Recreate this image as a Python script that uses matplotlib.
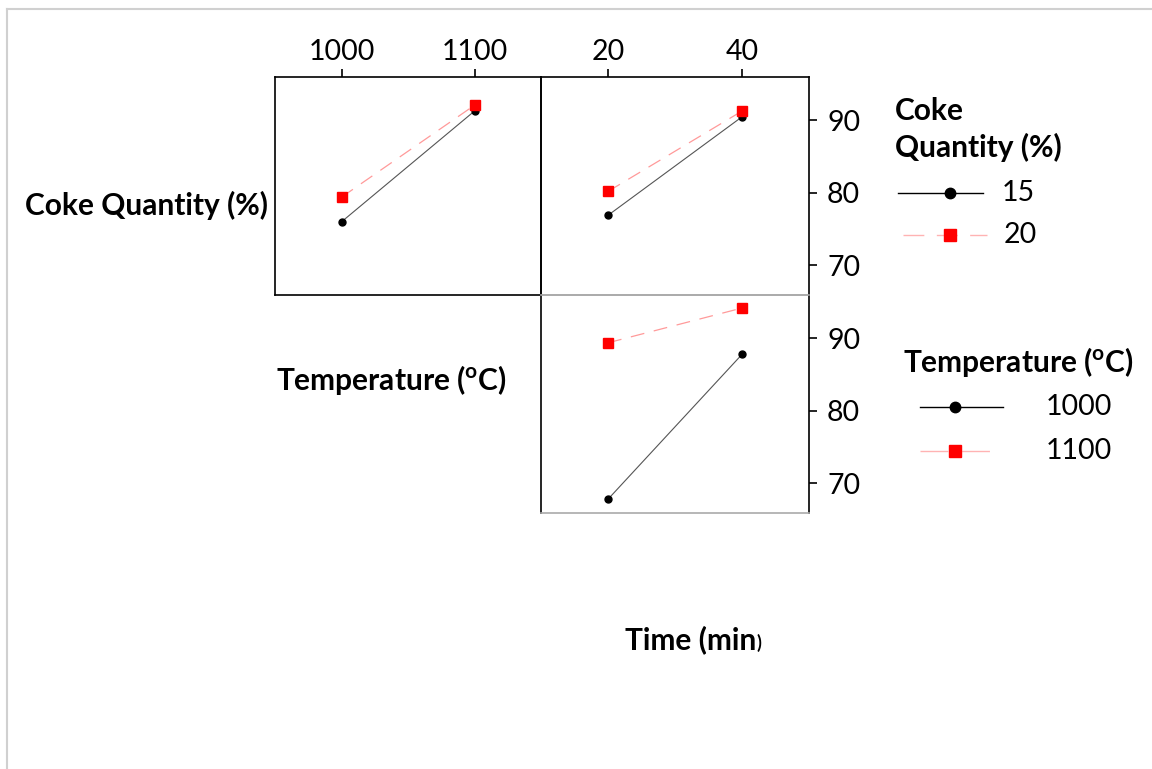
import matplotlib
matplotlib.use("Agg")
import matplotlib.pyplot as plt
from matplotlib.lines import Line2D

plt.rcParams["font.family"] = ["Lato", "DejaVu Sans"]
plt.rcParams["mathtext.fontset"] = "custom"
plt.rcParams["mathtext.bf"] = "Lato:bold"
plt.rcParams["mathtext.rm"] = "Lato"
plt.rcParams["lines.scale_dashes"] = False

# Factor levels
temp_levels = [1000, 1100]
time_levels = [20, 40]
coke_labels = ["15", "20"]
temp_labels = ["1000", "1100"]
y_ticks = [70, 80, 90]

# Mean response, Coke Quantity x Temperature
coke15_vs_temp = [76.0, 91.3]
coke20_vs_temp = [79.4, 92.1]
# Mean response, Coke Quantity x Time
coke15_vs_time = [76.9, 90.5]
coke20_vs_time = [80.2, 91.3]
# Mean response, Temperature x Time
temp1000_vs_time = [67.8, 87.8]
temp1100_vs_time = [89.4, 94.2]

W, H = 1152, 769
fig = plt.figure(figsize=(W / 100, H / 100), dpi=100)

TICK_FS = 20.5
LABEL_FS = 21.5


def fx(px):
    return px / W


def fy(py):
    return 1 - py / H


def panel(x0, y0, x1, y1):
    return fig.add_axes([fx(x0), fy(y1), fx(x1) - fx(x0), fy(y0) - fy(y1)])


BLACK_STYLE = dict(color="#555555", lw=0.8, marker="o", ms=5,
                   mfc="black", mec="black", zorder=3)
RED_STYLE = dict(color="#ff9a9a", lw=0.9, dashes=(10, 7), marker="s", ms=6.5,
                 mfc="red", mec="red", zorder=3)
YLIM = (65.9, 96.0)
GRAY = "#aaaaaa"

ax_ct = panel(275, 77, 541, 295)
ax_cm = panel(541, 77, 809, 295)
ax_tm = panel(541, 295, 809, 513)

ax_ct.plot(temp_levels, coke15_vs_temp, **BLACK_STYLE)
ax_ct.plot(temp_levels, coke20_vs_temp, **RED_STYLE)
ax_cm.plot(time_levels, coke15_vs_time, **BLACK_STYLE)
ax_cm.plot(time_levels, coke20_vs_time, **RED_STYLE)
ax_tm.plot(time_levels, temp1000_vs_time, **BLACK_STYLE)
ax_tm.plot(time_levels, temp1100_vs_time, **RED_STYLE)

ax_ct.set_xlim(950, 1150)
ax_cm.set_xlim(10, 50)
ax_tm.set_xlim(10, 50)
for ax in (ax_ct, ax_cm, ax_tm):
    ax.set_ylim(*YLIM)
    ax.set_facecolor("none")
    for s in ax.spines.values():
        s.set_linewidth(1.2)
        s.set_color("black")
    ax.set_xticks([])
    ax.set_yticks([])

# Top axis ticks on the first row
ax_ct.xaxis.tick_top()
ax_ct.set_xticks(temp_levels)
ax_ct.set_xticklabels(temp_labels)
ax_cm.xaxis.tick_top()
ax_cm.set_xticks(time_levels)
ax_cm.set_xticklabels([str(v) for v in time_levels])
for ax in (ax_ct, ax_cm):
    ax.tick_params(axis="x", top=True, bottom=False, length=6, width=1.2,
                   pad=3, labelsize=TICK_FS, colors="black")

# Right axis ticks on the last column
for ax in (ax_cm, ax_tm):
    ax.yaxis.tick_right()
    ax.set_yticks(y_ticks)
    ax.set_yticklabels([str(v) for v in y_ticks])
    ax.tick_params(axis="y", right=True, left=False, length=6, width=1.2,
                   pad=7, labelsize=TICK_FS, colors="black")

ax_cm.spines["bottom"].set_color(GRAY)
ax_tm.spines["top"].set_color(GRAY)
ax_tm.spines["bottom"].set_color(GRAY)

# Row / column labels
fig.text(fx(25), fy(205), "Coke Quantity (%)", fontsize=LABEL_FS,
         fontweight="bold", ha="left", va="center")
fig.text(fx(276), fy(380), r"Temperature ($\mathbf{^{o}}$C)", fontsize=LABEL_FS,
         fontweight="bold", ha="left", va="center")
t_time = fig.text(fx(625), fy(640), "Time (min", fontsize=LABEL_FS,
                  fontweight="bold", ha="left", va="center")
fig.add_artist(plt.Annotation(")", xy=(1.0, 0.2), xycoords=t_time, fontsize=13,
                              fontweight="bold", ha="left", va="baseline"))

# Legend: Coke Quantity
fig.text(fx(895), fy(111), "Coke", fontsize=LABEL_FS, fontweight="bold",
         ha="left", va="center")
fig.text(fx(895), fy(147), "Quantity (%)", fontsize=LABEL_FS, fontweight="bold",
         ha="left", va="center")
fig.add_artist(Line2D([fx(898), fx(983)], [fy(193), fy(193)], color="black",
                      lw=1.0, transform=fig.transFigure))
fig.add_artist(Line2D([fx(950)], [fy(193)], marker="o", ms=7.5, color="black",
                      ls="none", transform=fig.transFigure))
fig.add_artist(Line2D([fx(903), fx(987)], [fy(235), fy(235)], color="#ffb3b3",
                      lw=1.0, dashes=(15, 9), transform=fig.transFigure))
fig.add_artist(Line2D([fx(950)], [fy(235)], marker="s", ms=9, color="red",
                      ls="none", transform=fig.transFigure))
fig.text(fx(1002), fy(193), coke_labels[0], fontsize=TICK_FS, ha="left",
         va="center")
fig.text(fx(1004), fy(235), coke_labels[1], fontsize=TICK_FS, ha="left",
         va="center")

# Legend: Temperature
fig.text(fx(903), fy(362), r"Temperature ($\mathbf{^{o}}$C)", fontsize=LABEL_FS,
         fontweight="bold", ha="left", va="center")
fig.add_artist(Line2D([fx(920), fx(1003)], [fy(407), fy(407)], color="black",
                      lw=1.0, transform=fig.transFigure))
fig.add_artist(Line2D([fx(955)], [fy(407)], marker="o", ms=7.5, color="black",
                      ls="none", transform=fig.transFigure))
fig.add_artist(Line2D([fx(920), fx(1003)], [fy(451), fy(451)], color="#ffb3b3",
                      lw=1.0, dashes=(20, 10), transform=fig.transFigure))
fig.add_artist(Line2D([fx(955)], [fy(451)], marker="s", ms=9, color="red",
                      ls="none", transform=fig.transFigure))
fig.text(fx(1046), fy(407), temp_labels[0], fontsize=TICK_FS, ha="left",
         va="center")
fig.text(fx(1046), fy(451), temp_labels[1], fontsize=TICK_FS, ha="left",
         va="center")

# Outer frame
fig.add_artist(Line2D([fx(7), fx(7)], [fy(9), 0], color="#d0d0d0", lw=1.5,
                      transform=fig.transFigure))
fig.add_artist(Line2D([fx(7), 1], [fy(9), fy(9)], color="#d0d0d0", lw=1.5,
                      transform=fig.transFigure))

fig.savefig("out.png", dpi=100, facecolor="white")
